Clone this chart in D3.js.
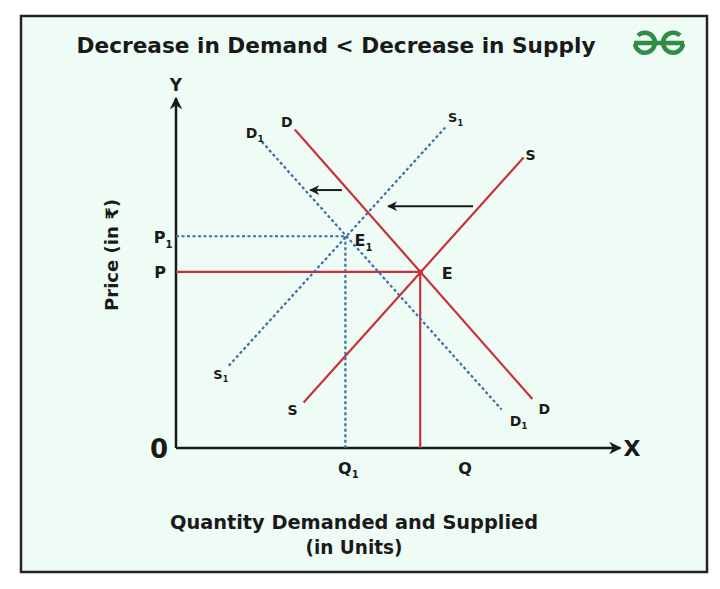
<!DOCTYPE html>
<html>
<head>
<meta charset="utf-8">
<script src="https://cdn.jsdelivr.net/npm/d3@7"></script>
<style>
  body { margin: 0; background: #fff; }
  text { font-family: "DejaVu Sans", sans-serif; font-weight: 700; fill: #1a1a1a; }
</style>
</head>
<body>
<div id="chart"></div>
<script>
// curves as [quantity, price] end points (0..100 units)
var demand   = [[27, 91], [81, 14]];
var supply   = [[29, 13], [79, 83]];
var demand1  = [[19.5, 87.5], [74, 11]];
var supply1  = [[12, 23.5], [61.5, 92]];
var equilibrium  = [55.5, 50.3];
var equilibrium1 = [38.5, 60.5];
// shift arrows [from, to]
var shiftArrows = [
  [[37.7, 73.7], [30.5, 73.7]],
  [[67.5, 69.1], [48.2, 69.1]]
];

var red = "#c9303c", blue = "#3d6ea6";

var svg = d3.select("#chart").append("svg")
    .attr("width", 720).attr("height", 589);

// frame
svg.append("rect")
    .attr("x", 21).attr("y", 16).attr("width", 686).attr("height", 556)
    .attr("fill", "#effcf6").attr("stroke", "#232323").attr("stroke-width", 2.5);

svg.append("text").attr("x", 336).attr("y", 53)
    .attr("text-anchor", "middle").attr("font-size", 21)
    .attr("textLength", 519).attr("lengthAdjust", "spacingAndGlyphs")
    .text("Decrease in Demand < Decrease in Supply");

// gfg logo
var logo = svg.append("g").attr("fill", "none").attr("stroke", "#2f8d46").attr("stroke-width", 4.5);
logo.append("path").attr("d", "M634,43 H684");
logo.append("path").attr("d", "M638,35.5 A10,10 0 1 1 635,44");
logo.append("path").attr("d", "M680,35.5 A10,10 0 1 0 683,44");

var x = d3.scaleLinear().domain([0, 100]).range([176, 616]);
var y = d3.scaleLinear().domain([0, 100]).range([448, 98]);

var defs = svg.append("defs");
defs.append("marker").attr("id", "head")
    .attr("viewBox", "0 0 10 10").attr("refX", 9).attr("refY", 5)
    .attr("markerWidth", 5).attr("markerHeight", 5).attr("orient", "auto")
    .append("path").attr("d", "M0,0 L10,5 L0,10 L3,5 Z").attr("fill", "#1a1a1a");

// axes
svg.append("line").attr("x1", x(0)).attr("y1", y(0)).attr("x2", x(0)).attr("y2", y(100))
    .attr("stroke", "#1a1a1a").attr("stroke-width", 2.5).attr("marker-end", "url(#head)");
svg.append("line").attr("x1", x(0)).attr("y1", y(0)).attr("x2", x(101)).attr("y2", y(0))
    .attr("stroke", "#1a1a1a").attr("stroke-width", 2.5).attr("marker-end", "url(#head)");

var line = d3.line().x(function(d) { return x(d[0]); }).y(function(d) { return y(d[1]); });

// guide lines to the axes
function guides(pt, color, dash) {
  var g = svg.append("g").attr("stroke", color).attr("stroke-width", 2.2)
      .attr("stroke-dasharray", dash).attr("fill", "none");
  g.append("path").attr("d", line([[0, pt[1]], pt]));
  g.append("path").attr("d", line([pt, [pt[0], 0]]));
}
guides(equilibrium1, blue, "3,2.5");
guides(equilibrium, red, null);

// curves
[[demand1, blue, "3,2.5"], [supply1, blue, "3,2.5"], [demand, red, null], [supply, red, null]]
  .forEach(function(c) {
    svg.append("path").attr("d", line(c[0])).attr("fill", "none")
        .attr("stroke", c[1]).attr("stroke-width", 2.2).attr("stroke-dasharray", c[2]);
  });

svg.append("circle").attr("cx", x(equilibrium[0])).attr("cy", y(equilibrium[1]))
    .attr("r", 2.5).attr("fill", red);

shiftArrows.forEach(function(a) {
  svg.append("path").attr("d", line(a)).attr("stroke", "#1a1a1a")
      .attr("stroke-width", 2).attr("marker-end", "url(#head)");
});

// labels: text, subscript, px, py
function label(txt, sub, px, py, size) {
  size = size || 16;
  var t = svg.append("text").attr("x", px).attr("y", py)
      .attr("text-anchor", "middle").attr("font-size", size).text(txt);
  if (sub) t.append("tspan").attr("font-size", Math.round(size * 0.62)).attr("dy", size * 0.28).text(sub);
}
label("Y", null, x(0), 91, 17);
label("X", null, 632, y(0) + 8, 22);
label("0", null, 159, y(0) + 10, 26);
label("P", "1", 163, y(equilibrium1[1]) + 7);
label("P", null, 160, y(equilibrium[1]) + 6);
label("E", "1", x(equilibrium1[0]) + 18, y(equilibrium1[1]) + 10);
label("E", null, x(equilibrium[0]) + 27, y(equilibrium[1]) + 7);
label("Q", "1", x(equilibrium1[0]) + 3, 474);
label("Q", null, 465, 474);
label("D", null, x(demand[0][0]) - 8, y(demand[0][1]) - 3, 14);
label("D", null, x(demand[1][0]) + 12, y(demand[1][1]) + 15, 14);
label("D", "1", x(demand1[0][0]) - 7, y(demand1[0][1]) - 4, 14);
label("D", "1", x(demand1[1][0]) + 17, y(demand1[1][1]) + 16, 14);
label("S", null, x(supply[0][0]) - 11, y(supply[0][1]) + 12, 14);
label("S", null, x(supply[1][0]) + 7, y(supply[1][1]) + 2, 14);
label("S", "1", x(supply1[0][0]) - 8, y(supply1[0][1]) + 13, 13);
label("S", "1", x(supply1[1][0]) + 9, y(supply1[1][1]) - 4, 13);

// axis titles
svg.append("text").attr("transform", "translate(118,255) rotate(-90)")
    .attr("text-anchor", "middle").attr("font-size", 17)
    .attr("textLength", 112).attr("lengthAdjust", "spacingAndGlyphs").text("Price (in \u20b9)");
svg.append("text").attr("x", 354).attr("y", 529).attr("text-anchor", "middle")
    .attr("font-size", 19).attr("font-weight", 600)
    .attr("textLength", 368).attr("lengthAdjust", "spacingAndGlyphs").text("Quantity Demanded and Supplied");
svg.append("text").attr("x", 354).attr("y", 554).attr("text-anchor", "middle")
    .attr("font-size", 19).attr("font-weight", 600)
    .attr("textLength", 97).attr("lengthAdjust", "spacingAndGlyphs").text("(in Units)");
</script>
</body>
</html>
